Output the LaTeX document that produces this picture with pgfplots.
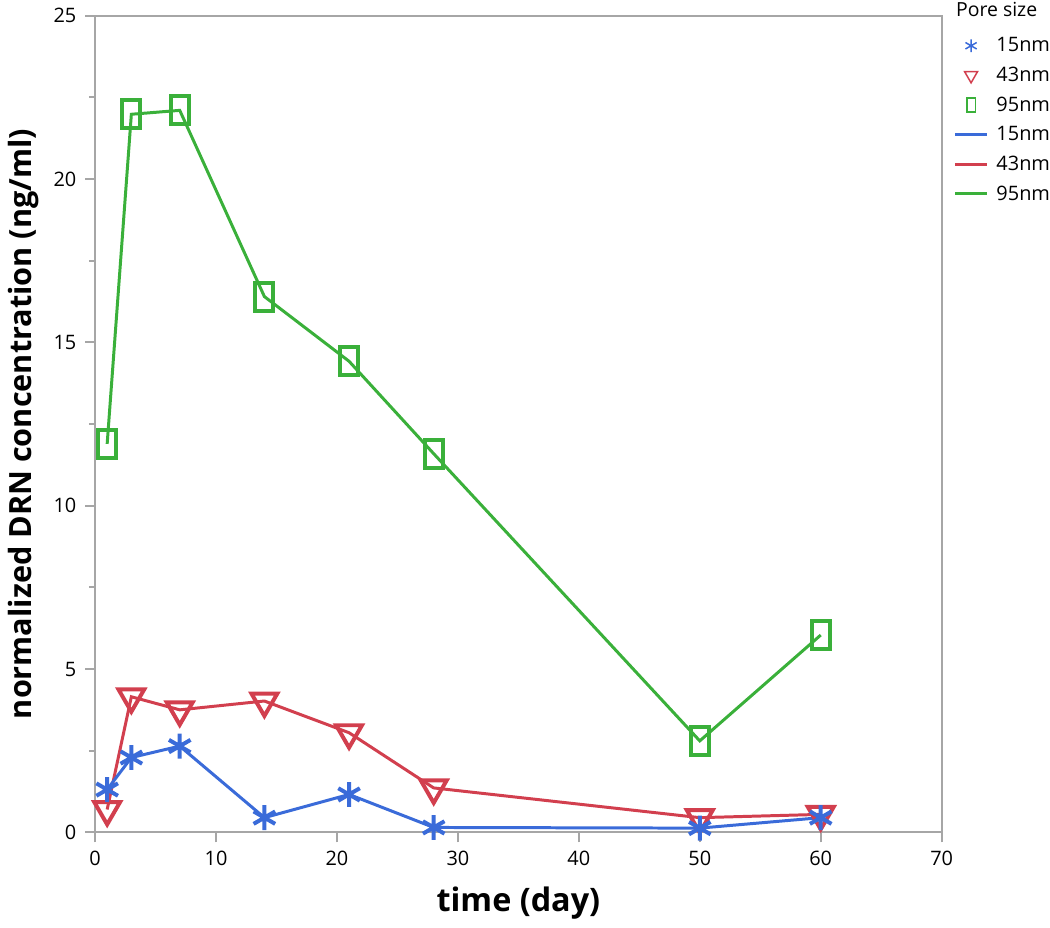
\documentclass[border=0pt]{standalone}
\usepackage{pgfplots}
\pgfplotsset{compat=1.18}
\usepackage{fontspec}
\setmainfont{Open Sans}
\definecolor{c15}{HTML}{3A6BD9}
\definecolor{c43}{HTML}{D23F4E}
\definecolor{c95}{HTML}{3AB03A}
\pgfplotsset{
  markleg/.style={legend image code/.code={\draw[##1] plot coordinates {(0.225cm,0cm)};}},
  lineleg/.style={legend image code/.code={\draw[##1] (0cm,0cm) -- (0.45cm,0cm);}},
}
\begin{document}
\begin{tikzpicture}
\begin{axis}[
  scale only axis, width=340pt, height=328pt,
  xmin=0, xmax=70, ymin=0, ymax=25,
  xtick={0,10,...,70}, ytick={0,5,...,25},
  minor ytick={2.5,7.5,...,22.5},
  tick align=outside, major tick length=4pt, minor tick length=2.5pt,
  tick style={gray!70, line width=0.8pt},
  axis line style={gray!70, line width=0.8pt},
  xtick pos=bottom, ytick pos=left,
  ticklabel style={font=\fontsize{8}{10}\selectfont},
  /pgf/number format/assume math mode=true,
  xlabel={\bfseries time (day)},
  ylabel={\bfseries normalized DRN concentration (ng/ml)},
  xlabel style={font=\fontsize{13}{15}\selectfont, yshift=-1.5pt},
  ylabel style={font=\fontsize{12.3}{14}\selectfont, yshift=-1pt},
  clip=false,
  legend style={draw=none, fill=none, at={(1,1)}, anchor=north west,
    xshift=4.8pt, yshift=-7.6pt, inner sep=0pt, outer sep=0pt,
    font=\fontsize{8}{10}\selectfont, row sep=2.9pt, column sep=3.2pt,
    nodes={inner sep=0pt, text height=7pt, text depth=2pt}},
  legend cell align=left,
]
\addlegendimage{markleg, only marks, mark=asterisk, c15, mark size=2.6pt, line width=0.6pt}
\addlegendentry{15nm}
\addlegendimage{markleg, only marks, mark=triangle, mark options={rotate=180}, c43, mark size=3pt, line width=0.6pt}
\addlegendentry{43nm}
\addlegendimage{markleg, only marks, mark=square, mark options={xscale=0.6}, c95, mark size=2.8pt, line width=0.6pt}
\addlegendentry{95nm}
\addlegendimage{lineleg, c15, line width=1.2pt}
\addlegendentry{15nm}
\addlegendimage{lineleg, c43, line width=1.2pt}
\addlegendentry{43nm}
\addlegendimage{lineleg, c95, line width=1.2pt}
\addlegendentry{95nm}

\addplot[forget plot, c95, line width=1.2pt, mark=square,
  mark options={xscale=0.64, line width=1.6pt, fill=white}, mark size=5.6pt]
  coordinates {(1,11.89)(3,21.98)(7,22.1)(14,16.4)(21,14.42)(28,11.59)(50,2.8)(60,6.04)};
\addplot[forget plot, c43, line width=1.2pt, mark=triangle,
  mark options={rotate=180, line width=1.6pt, fill=white}, mark size=6pt]
  coordinates {(1,0.7)(3,4.15)(7,3.75)(14,4.02)(21,3.05)(28,1.36)(50,0.45)(60,0.55)};
\addplot[forget plot, c15, line width=1.2pt, mark=asterisk,
  mark options={line width=1.6pt}, mark size=5pt]
  coordinates {(1,1.31)(3,2.29)(7,2.64)(14,0.45)(21,1.16)(28,0.15)(50,0.13)(60,0.45)};
\node[anchor=west, font=\fontsize{7.8}{10}\selectfont, inner sep=0pt]
  at ([xshift=5.6pt, yshift=2.4pt]rel axis cs:1,1) {Pore size};
\end{axis}
\end{tikzpicture}
\end{document}
